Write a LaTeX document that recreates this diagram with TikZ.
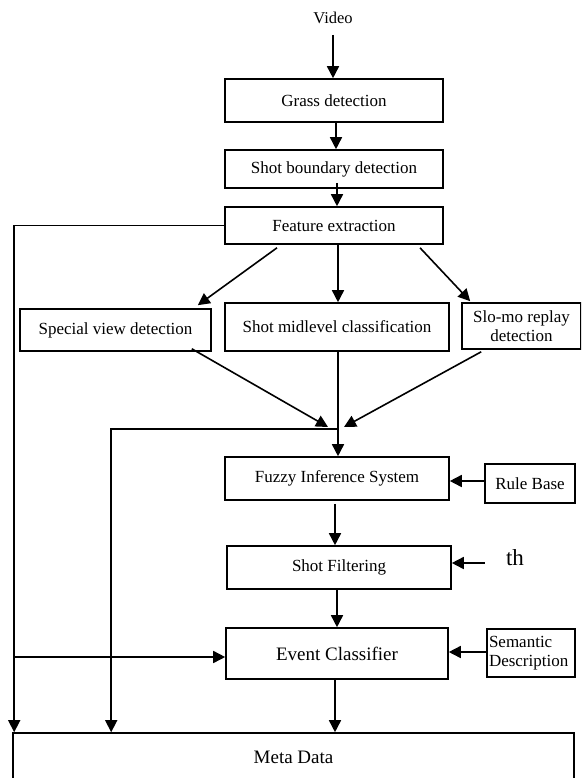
\documentclass[tikz,border=0pt]{standalone}
\usepackage{fontspec}
\setmainfont{Liberation Serif}
\usetikzlibrary{arrows.meta,calc}
\begin{document}
\begin{tikzpicture}[x=1pt,y=-1pt,
  box/.style={draw,line width=1.6pt,inner sep=2pt,font=\fontsize{17}{19}\selectfont,align=center},
  arr/.style={line width=1.6pt,-{Triangle[length=12pt,width=12pt]}},
  ln/.style={line width=1.6pt}]
\useasboundingbox (0,0) rectangle (581,778);
\clip (0,0) rectangle (581,778);
% nodes
\node[font=\fontsize{16.5}{19}\selectfont] (video) at (333,18) {Video};
\node[box,minimum width=218pt,minimum height=43pt] (grass) at (334,100.5) {Grass detection};
\node[box,minimum width=218pt,minimum height=38pt] (sbd) at (334,169) {Shot boundary detection};
\node[box,minimum width=218pt,minimum height=37pt] (fe) at (334,225.5) {Feature extraction};
\node[box,minimum width=191pt,minimum height=42pt] (sv) at (115.5,330) {Special view detection};
\node[box,minimum width=224pt,minimum height=48pt] (mid) at (337,327) {Shot midlevel classification};
\node[box,minimum width=119pt,minimum height=46pt] (slo) at (521.5,326) {Slo-mo replay\\detection};
\node[box,minimum width=224pt,minimum height=43pt] (fis) at (337,478.5) {Fuzzy Inference System};
\node[box,minimum width=90pt,minimum height=39pt] (rb) at (530,483.5) {Rule Base};
\node[box,minimum width=224pt,minimum height=43pt] (sf) at (339,567.5) {Shot Filtering};
\node[font=\fontsize{23}{26}\selectfont,inner sep=0pt] (th) at (515,558) {th};
\node[box,minimum width=222pt,minimum height=51pt,font=\fontsize{19}{22}\selectfont] (ec) at (337,653.5) {Event Classifier};
\node[box,text width=84pt,align=left,minimum height=48pt] (sd) at (531,653) {Semantic\\Description};
\node[box,minimum width=561pt,minimum height=48pt,font=\fontsize{19}{22}\selectfont] (meta) at (293.5,757) {Meta Data};
% coordinates
\coordinate (jn) at (338,429);
\coordinate (br) at (15,657);
% connectors
\draw[arr] ($(video.center)+(0,17)$) -- (video.center |- grass.north);
\draw[arr] ([xshift=2pt]grass.south) -- ([xshift=2pt]sbd.north);
\draw[arr] ($(sbd.south)+(3,-6)$) coordinate (s1) -- (s1 |- fe.north);
\draw[arr] (fe.west) -| ($(meta.north west)+(2,0)$);
\draw[arr] (br) -- (br -| ec.west);
\draw[arr] ($(fe.south)+(-57,3)$) -- ($(sv.north east)+(-14,-3)$);
\draw[arr] ([xshift=4pt]fe.south) -- ([xshift=1pt]mid.north);
\draw[arr] ($(fe.south)+(86,3)$) -- ($(slo.north west)+(9,-1)$);
\draw[arr] ($(sv.south east)+(-20,-3)$) -- ($(jn)+(-10,-2)$);
\draw[arr] ($(slo.south west)+(20,2)$) -- ($(jn)+(6,-2)$);
\draw[arr] ([xshift=1pt]mid.south) -- ([xshift=1pt]fis.north);
\draw[arr] (jn) -| ($(meta.north west)+(99,0)$);
\draw[arr] ($(rb.west)+(0,-2.5)$) coordinate (b) -- (b -| fis.east);
\draw[arr] ($(fis.south)+(-2,3)$) coordinate (a) -- (a |- sf.north);
\draw[arr] ($(th.west)+(-21,5)$) coordinate (t) -- (t -| sf.east);
\draw[arr] ([xshift=-2pt]sf.south) -- ([xshift=-2pt]sf.south |- ec.north);
\draw[arr] ($(sd.west)+(0,-1)$) coordinate (c) -- (c -| ec.east);
\draw[arr] ([xshift=-2pt]ec.south) -- ([xshift=-2pt]ec.south |- meta.north);
\end{tikzpicture}
\end{document}
